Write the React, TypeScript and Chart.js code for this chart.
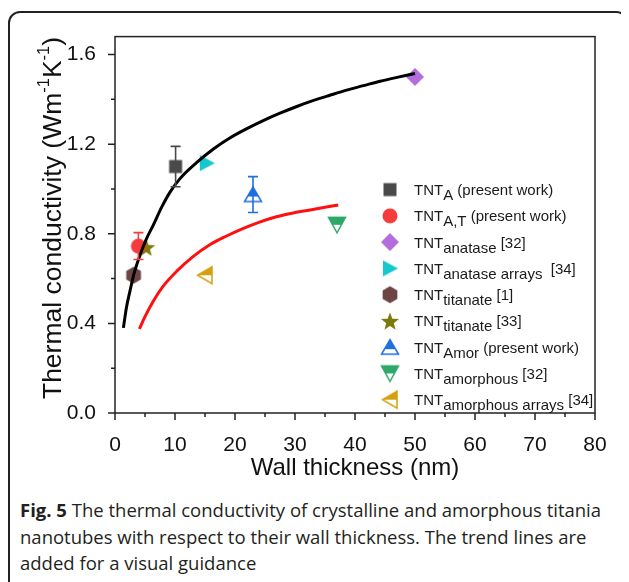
import React, { useEffect, useRef } from 'react';
import { Chart, registerables } from 'chart.js';
Chart.register(...registerables);

const FONT = '"Liberation Sans", Arial, Helvetica, sans-serif';

// Axis ticks
const xTicksMajor = [0, 10, 20, 30, 40, 50, 60, 70, 80];
const xTicksMinor = [5, 15, 25, 35, 45, 55, 65, 75];
const yTicksMajor = [0, 0.4, 0.8, 1.2, 1.6];
const yTicksMinor = [0.2, 0.6, 1.0, 1.4];

// Series (one point each)
const seriesSubs = ['A', 'A,T', 'anatase', 'anatase arrays', 'titanate', 'titanate', 'Amor', 'amorphous', 'amorphous arrays'];
const seriesTails = [' (present work)', ' (present work)', ' [32]', '  [34]', ' [1]', ' [33]', ' (present work)', ' [32]', ' [34]'];
const seriesX = [10.1, 3.9, 50, 15.3, 3.1, 5.2, 23, 37, 15];
const seriesY = [1.10, 0.745, 1.50, 1.115, 0.615, 0.74, 0.975, 0.84, 0.615];
const seriesErr = [0.09, 0.06, 0, 0, 0, 0, 0.08, 0, 0];
const seriesColors = ['#4a4a4a', '#f43c3c', '#b46ddb', '#14c8cc', '#6e4545', '#7d7a0c', '#1f6fe0', '#2ea86a', '#d4a00f'];
const seriesMarkers = ['square', 'circle', 'diamond', 'triRight', 'hexagon', 'star', 'triUpHalf', 'triDownHalf', 'triLeftHalf'];

// Trend lines
const blackTrendX = [1.4, 1.9, 2.5, 3.2, 4.2, 5.2, 6.4, 7.8, 9.2, 10.8, 13.5, 16.4, 19, 21.9, 24.7, 27.5, 30.3, 33.1, 35.8, 38.6, 41.4, 44.2, 47, 50];
const blackTrendY = [0.38, 0.47, 0.545, 0.625, 0.707, 0.775, 0.84, 0.92, 0.987, 1.045, 1.115, 1.178, 1.225, 1.268, 1.305, 1.338, 1.368, 1.395, 1.418, 1.441, 1.461, 1.481, 1.498, 1.515];
const redTrendX = [4.06, 5, 6.4, 8, 10.3, 13, 15.8, 18.6, 21.4, 24.1, 26.9, 29.7, 32.5, 35, 37.2];
const redTrendY = [0.375, 0.43, 0.50, 0.565, 0.633, 0.698, 0.751, 0.79, 0.824, 0.852, 0.876, 0.893, 0.906, 0.918, 0.928];

function makeMarker(kind: string, color: string): HTMLCanvasElement {
  const c = document.createElement('canvas');
  c.width = 24; c.height = 24;
  const g = c.getContext('2d')!;
  const cx = 12, cy = 12;
  g.fillStyle = color; g.strokeStyle = color; g.lineWidth = 1.5; g.lineJoin = 'miter';
  const poly = (pts: number[][]) => { g.beginPath(); pts.forEach((p, i) => (i ? g.lineTo(p[0], p[1]) : g.moveTo(p[0], p[1]))); g.closePath(); };
  const half = (pts: number[][], limit: number) => {
    poly(pts); g.fillStyle = '#fff'; g.fill();
    g.save(); g.beginPath(); g.rect(0, 0, 24, limit); g.clip();
    poly(pts); g.fillStyle = color; g.fill(); g.restore();
    poly(pts); g.stroke();
  };
  if (kind === 'square') { g.fillRect(cx - 6.5, cy - 6.5, 13, 13); }
  else if (kind === 'circle') { g.beginPath(); g.arc(cx, cy, 7.5, 0, Math.PI * 2); g.fill(); }
  else if (kind === 'diamond') { poly([[cx, cy - 9], [cx + 9, cy], [cx, cy + 9], [cx - 9, cy]]); g.fill(); }
  else if (kind === 'triRight') { poly([[cx - 7, cy - 8], [cx + 8, cy], [cx - 7, cy + 8]]); g.fill(); }
  else if (kind === 'hexagon') {
    const pts: number[][] = [];
    for (let k = 0; k < 6; k++) { const a = Math.PI / 2 + (k * Math.PI) / 3; pts.push([cx + 8.5 * Math.cos(a), cy + 8.5 * Math.sin(a)]); }
    poly(pts); g.fill();
  } else if (kind === 'star') {
    const pts: number[][] = [];
    for (let k = 0; k < 10; k++) { const r = k % 2 ? 4 : 9.5; const a = -Math.PI / 2 + (k * Math.PI) / 5; pts.push([cx + r * Math.cos(a), cy + 1 + r * Math.sin(a)]); }
    poly(pts); g.fill();
  } else if (kind === 'triUpHalf') {
    half([[cx, cy - 7.5], [cx + 8.5, cy + 7], [cx - 8.5, cy + 7]], cy + 2);
  } else if (kind === 'triDownHalf') {
    half([[cx - 8.5, cy - 7.5], [cx + 8.5, cy - 7.5], [cx, cy + 8]], cy);
  } else if (kind === 'triLeftHalf') {
    half([[cx + 7, cy - 8.5], [cx + 7, cy + 8.5], [cx - 7.5, cy]], cy);
  }
  return c;
}

export default function App() {
  const ref = useRef<HTMLCanvasElement>(null);
  useEffect(() => {
    const markers = seriesMarkers.map((m, i) => makeMarker(m, seriesColors[i]));
    const decor = {
      id: 'decor',
      afterDatasetsDraw(chart: any) {
        const ctx = chart.ctx; const xs = chart.scales.x; const ys = chart.scales.y;
        ctx.save();
        seriesX.forEach((x, i) => {
          const e = seriesErr[i]; if (!e) return;
          const px = xs.getPixelForValue(x);
          const y1 = ys.getPixelForValue(seriesY[i] + e); const y2 = ys.getPixelForValue(seriesY[i] - e);
          ctx.strokeStyle = seriesColors[i]; ctx.lineWidth = 1.6;
          ctx.beginPath();
          ctx.moveTo(px, y1); ctx.lineTo(px, y2);
          ctx.moveTo(px - 5, y1); ctx.lineTo(px + 5, y1);
          ctx.moveTo(px - 5, y2); ctx.lineTo(px + 5, y2);
          ctx.stroke();
        });
        ctx.restore();
      },
      afterDraw(chart: any) {
        const ctx = chart.ctx; const a = chart.chartArea; const xs = chart.scales.x; const ys = chart.scales.y;
        ctx.save();
        ctx.strokeStyle = '#222'; ctx.lineWidth = 1.5;
        ctx.strokeRect(a.left, a.top, a.right - a.left, a.bottom - a.top);
        ctx.beginPath();
        xTicksMajor.forEach(v => { const p = xs.getPixelForValue(v); ctx.moveTo(p, a.bottom); ctx.lineTo(p, a.bottom + 7); });
        xTicksMinor.forEach(v => { const p = xs.getPixelForValue(v); ctx.moveTo(p, a.bottom); ctx.lineTo(p, a.bottom + 4); });
        yTicksMajor.forEach(v => { const p = ys.getPixelForValue(v); ctx.moveTo(a.left, p); ctx.lineTo(a.left - 7, p); });
        yTicksMinor.forEach(v => { const p = ys.getPixelForValue(v); ctx.moveTo(a.left, p); ctx.lineTo(a.left - 4, p); });
        ctx.stroke();

        // legend
        const lx = 380, tx = 404, ly0 = 176.6, rowH = 26.26;
        ctx.fillStyle = '#1a1a1a'; ctx.textBaseline = 'alphabetic'; ctx.textAlign = 'left';
        seriesSubs.forEach((sub, i) => {
          const y = ly0 + i * rowH;
          ctx.drawImage(markers[i], lx - 12, y - 12);
          ctx.font = `15px ${FONT}`;
          const base = y + 5.5;
          let x = tx;
          ctx.fillText('TNT', x, base); x += ctx.measureText('TNT').width;
          ctx.fillText(sub, x, base + 5); x += ctx.measureText(sub).width;
          ctx.fillText(seriesTails[i], x, base);
        });

        // x title
        ctx.font = `24px ${FONT}`; ctx.textAlign = 'center'; ctx.textBaseline = 'middle'; ctx.fillStyle = '#111';
        ctx.fillText('Wall thickness (nm)', 345, 455);

        // y title (rotated, with superscripts)
        ctx.translate(41, 205); ctx.rotate(-Math.PI / 2);
        ctx.textAlign = 'left'; ctx.textBaseline = 'alphabetic';
        const parts: [string, boolean][] = [['Thermal conductivity (Wm', false], ['-1', true], ['K', false], ['-1', true], [')', false]];
        let total = 0;
        parts.forEach(([t, s]) => { ctx.font = `${s ? 16.5 : 26.5}px ${FONT}`; total += ctx.measureText(t).width; });
        let x = -total / 2;
        parts.forEach(([t, s]) => {
          ctx.font = `${s ? 16.5 : 26.5}px ${FONT}`;
          ctx.fillText(t, x, s ? -2.5 : 9.5);
          x += ctx.measureText(t).width;
        });
        ctx.restore();
      },
    };

    const datasets: any[] = [
      { data: blackTrendX.map((x, i) => ({ x, y: blackTrendY[i] })), showLine: true, borderColor: '#000', borderWidth: 3, pointRadius: 0, cubicInterpolationMode: 'monotone', fill: false },
      { data: redTrendX.map((x, i) => ({ x, y: redTrendY[i] })), showLine: true, borderColor: '#ff1010', borderWidth: 3, pointRadius: 0, cubicInterpolationMode: 'monotone', fill: false },
      ...seriesX.map((x, i) => ({ data: [{ x, y: seriesY[i] }], showLine: false, pointStyle: markers[i], pointRadius: 10, backgroundColor: seriesColors[i], borderColor: seriesColors[i] })),
    ];

    const chart = new Chart(ref.current!, {
      type: 'scatter',
      data: { datasets },
      plugins: [decor],
      options: {
        animation: false, responsive: false, maintainAspectRatio: false, devicePixelRatio: 1,
        layout: { padding: { left: 0, right: 31, top: 22, bottom: 0 } },
        plugins: { legend: { display: false }, tooltip: { enabled: false } },
        scales: {
          x: {
            type: 'linear', min: 0, max: 80,
            grid: { display: false }, border: { display: false },
            ticks: { font: { family: FONT, size: 21 }, color: '#111', padding: 12, autoSkip: false, maxRotation: 0, callback: (v: any) => String(v) },
            afterBuildTicks: (s: any) => { s.ticks = xTicksMajor.map(v => ({ value: v })); },
            afterFit: (s: any) => { s.height = 70; },
          },
          y: {
            type: 'linear', min: 0, max: 1.68,
            grid: { display: false }, border: { display: false },
            ticks: { font: { family: FONT, size: 21 }, color: '#111', padding: 11, autoSkip: false, callback: (v: any) => Number(v).toFixed(1) },
            afterBuildTicks: (s: any) => { s.ticks = yTicksMajor.map(v => ({ value: v })); },
            afterFit: (s: any) => { s.width = 105; },
          },
        },
      } as any,
    });
    return () => chart.destroy();
  }, []);

  return (
    <div style={{ position: 'relative', marginTop: 3, width: 620, height: 600, border: '2px solid #222', borderRadius: 12, boxSizing: 'border-box' }}>
      <canvas ref={ref} width={616} height={470} style={{ position: 'absolute', left: 0, top: 0, width: 616, height: 470 }} />
      <div style={{ position: 'absolute', left: 10, top: 484, width: 606, fontFamily: '"Open Sans", "Noto Sans", sans-serif', fontSize: 18.5, lineHeight: '26.5px', color: '#231f20' }}>
        <b>Fig. 5</b> The thermal conductivity of crystalline and amorphous titania nanotubes with respect to their wall thickness. The trend lines are added for a visual guidance
      </div>
    </div>
  );
}
